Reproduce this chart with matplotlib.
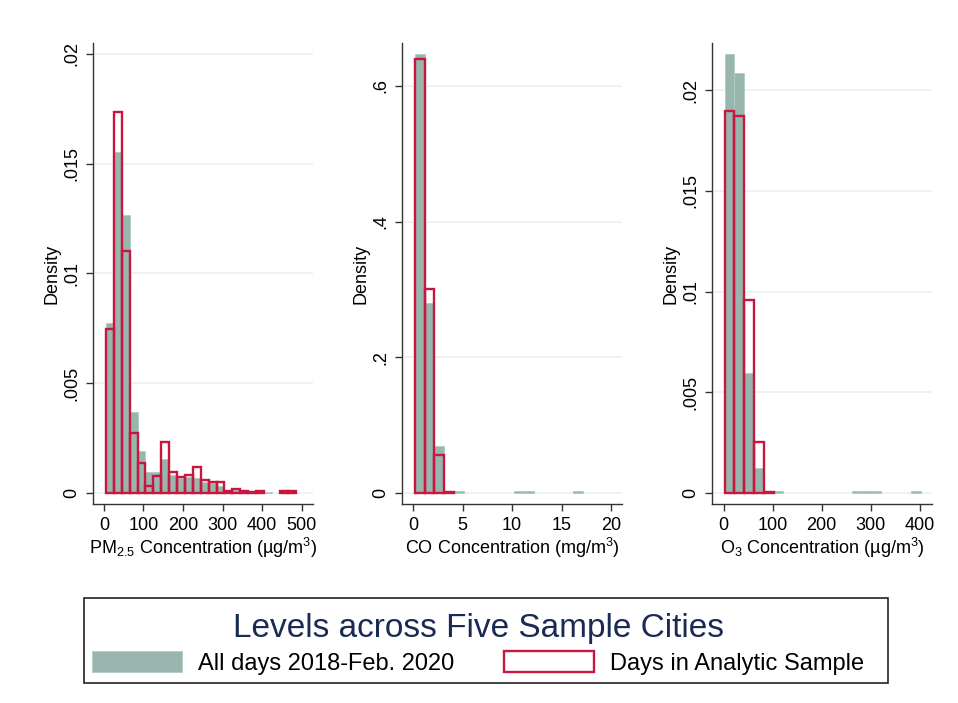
"""Pollutant density histograms: all days vs analytic sample, five cities."""

import matplotlib
matplotlib.use("Agg")
import matplotlib.pyplot as plt
from matplotlib.patches import Patch, Rectangle

plt.rcParams["font.family"] = ["Liberation Sans", "DejaVu Sans"]
plt.rcParams["mathtext.fontset"] = "custom"
plt.rcParams["mathtext.rm"] = "Liberation Sans"
plt.rcParams["mathtext.it"] = "Liberation Sans:italic"

# PM2.5: bins of 20 starting at 5
pm_start, pm_width = 5, 20
pm_all = [0.00772, 0.01553, 0.01265, 0.00368, 0.00191, 0.00092, 0.00094, 0.00154,
          0.00082, 0.00068, 0.00070, 0.00068, 0.00050, 0.00043, 0.00030, 0.00013,
          0.00010, 0.00005, 0.00003, 0.00005, 0.00004, 0.0, 0.00004, 0.00004]
pm_sample = [0.00748, 0.01734, 0.01102, 0.00270, 0.00137, 0.00032, 0.00076, 0.00232,
             0.00094, 0.00071, 0.00082, 0.00116, 0.00057, 0.00049, 0.00049, 0.00009,
             0.00018, 0.00006, 0.00002, 0.00006, 0.0, 0.0, 0.00007, 0.00007]

# CO: bins of 1 starting at 0.17
co_start, co_width = 0.17, 1
co_all = [0.6467, 0.2793, 0.0688, 0.0020, 0.0020, 0, 0, 0, 0, 0,
          0.0030, 0.0030, 0, 0, 0, 0, 0.0030]
co_sample = [0.6398, 0.3005, 0.0551, 0.0015, 0, 0, 0, 0, 0, 0,
             0, 0, 0, 0, 0, 0, 0]

# O3: bins of 20 starting at 2
o3_start, o3_width = 2, 20
o3_all = [0.02179, 0.02085, 0.00597, 0.00123, 0.00005, 0.00007, 0, 0, 0, 0,
          0, 0, 0, 0.00008, 0.00008, 0.00008, 0, 0, 0, 0.00008]
o3_sample = [0.01896, 0.01872, 0.00959, 0.00252, 0.00003, 0, 0, 0, 0, 0,
             0, 0, 0, 0, 0, 0, 0, 0, 0, 0]

GREY = "#98b6ae"
RED = "#c8163f"
AXC = "#333333"

panels = [
    dict(start=pm_start, width=pm_width, all=pm_all, sample=pm_sample,
         xlim=(-27.8, 529), ylim=(-0.00052, 0.0205),
         xticks=[0, 100, 200, 300, 400, 500],
         yticks=[0, 0.005, 0.01, 0.015, 0.02],
         ylabels=["0", ".005", ".01", ".015", ".02"],
         xlabel="PM$_{2.5}$ Concentration (µg/m$^{3}$)", left=93),
    dict(start=co_start, width=co_width, all=co_all, sample=co_sample,
         xlim=(-1.11, 21.1), ylim=(-0.0167, 0.6633),
         xticks=[0, 5, 10, 15, 20],
         yticks=[0, 0.2, 0.4, 0.6],
         ylabels=["0", ".2", ".4", ".6"],
         xlabel="CO Concentration (mg/m$^{3}$)", left=402),
    dict(start=o3_start, width=o3_width, all=o3_all, sample=o3_sample,
         xlim=(-23.6, 425), ylim=(-0.00056, 0.02235),
         xticks=[0, 100, 200, 300, 400],
         yticks=[0, 0.005, 0.01, 0.015, 0.02],
         ylabels=["0", ".005", ".01", ".015", ".02"],
         xlabel="O$_{3}$ Concentration (µg/m$^{3}$)", left=712),
]

W, H = 958, 703
fig = plt.figure(figsize=(W / 100, H / 100), dpi=100)

for p in panels:
    ax = fig.add_axes([p["left"] / W, (H - 504) / H, 220 / W, 461 / H])
    edges_all = [p["start"] + i * p["width"] for i in range(len(p["all"]))]
    keep = [i for i, v in enumerate(p["all"]) if v > 0]
    ax.bar([edges_all[i] for i in keep], [p["all"][i] for i in keep],
           width=p["width"], align="edge", color=GREY, edgecolor="#b3cbc4",
           linewidth=0.6, zorder=2)
    keep = [i for i, v in enumerate(p["sample"]) if v > 0]
    ax.bar([edges_all[i] for i in keep], [p["sample"][i] for i in keep],
           width=p["width"], align="edge", fill=False, edgecolor=RED,
           linewidth=1.7, zorder=3)

    ax.set_xlim(*p["xlim"])
    ax.set_ylim(*p["ylim"])
    ax.set_xticks(p["xticks"])
    ax.set_yticks(p["yticks"])
    ax.set_yticklabels(p["ylabels"], rotation=90, va="center")
    ax.tick_params(axis="both", labelsize=13, length=5, width=1, color=AXC,
                   direction="out", pad=4)
    ax.grid(True, axis="y", color="#eaf1f2", linewidth=1.2, zorder=0)
    ax.set_axisbelow(True)
    for s in ("top", "right"):
        ax.spines[s].set_visible(False)
    for s in ("left", "bottom"):
        ax.spines[s].set_color(AXC)
        ax.spines[s].set_linewidth(1)
    ax.set_ylabel("Density", fontsize=13, labelpad=2)
    ax.set_xlabel(p["xlabel"], fontsize=13, labelpad=2)

# legend box drawn separately so its padding can match the original
fig.patches.append(Rectangle((84 / W, (H - 683) / H), 804 / W, 85 / H,
                             transform=fig.transFigure, fill=False,
                             edgecolor="#222222", linewidth=1.2))

handles = [Patch(facecolor=GREY, edgecolor="#b3cbc4", linewidth=0.6),
           Patch(facecolor="white", edgecolor=RED, linewidth=1.7)]
labels = ["All days 2018-Feb. 2020", "Days in Analytic Sample"]
leg = fig.legend(handles, labels, ncol=2, loc="upper left",
                 bbox_to_anchor=(84 / W, (H - 605) / H),
                 fontsize=17, title="Levels across Five Sample Cities",
                 title_fontsize=24, frameon=False,
                 handlelength=3.8, handleheight=1.0, handletextpad=0.68,
                 columnspacing=2.1, borderpad=0.35, labelspacing=0.3,
                 borderaxespad=0)
leg.get_title().set_color("#1a2a55")

fig.savefig("out.png", dpi=100)
